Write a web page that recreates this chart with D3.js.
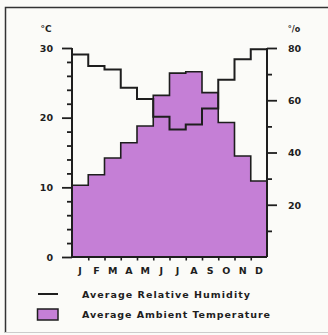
<!DOCTYPE html>
<html>
<head>
<meta charset="utf-8">
<script src="https://cdn.jsdelivr.net/npm/d3@7"></script>
<style>
  html, body { margin: 0; padding: 0; background: #fbfbf8; }
  svg { display: block; }
  text { font-family: "DejaVu Sans", sans-serif; font-weight: bold; fill: #1e1e1e; }
</style>
</head>
<body>
<svg id="chart" width="328" height="335"></svg>
<script>
// Monthly climate data
const months = ["J", "F", "M", "A", "M", "J", "J", "A", "S", "O", "N", "D"];
const temperature = [10.3, 11.8, 14.2, 16.4, 18.8, 23.2, 26.4, 26.6, 23.6, 19.3, 14.5, 10.9]; // °C
const humidity = [77.5, 73.1, 71.8, 64.8, 60.5, 53.7, 48.8, 50.7, 56.8, 67.8, 75.7, 79.5];    // %
const tempTicks = [0, 10, 20, 30];
const humTicks = [20, 40, 60, 80];
const legendItems = ["Average Relative Humidity", "Average Ambient Temperature"];

const ink = "#1e1e1e";
const purple = "#c57fd6";

const svg = d3.select("#chart");

// Frame around the figure
svg.append("path")
  .attr("d", "M5.5,333 L5.5,7.5 L328,7.5")
  .attr("fill", "none").attr("stroke", "#333").attr("stroke-width", 1.5);
svg.append("line")
  .attr("x1", 5).attr("x2", 328).attr("y1", 332.5).attr("y2", 332.5)
  .attr("stroke", "#ccc").attr("stroke-width", 1);

const plotL = 72, plotR = 267, plotT = 48, plotB = 257;

const x = d3.scaleLinear().domain([0, 12]).range([plotL, plotR]);
const yT = d3.scaleLinear().domain([0, 30]).range([plotB, plotT]);
const yH = d3.scaleLinear().domain([0, 80]).range([plotB, plotT]);

// Step points: each month value holds from its start to the next month
const stepPts = vals => vals.map((v, i) => [i, v]).concat([[12, vals[vals.length - 1]]]);

// Temperature area
const area = d3.area()
  .x(d => x(d[0])).y0(yT(0)).y1(d => yT(d[1]))
  .curve(d3.curveStepAfter);
svg.append("path")
  .datum(stepPts(temperature))
  .attr("d", area)
  .attr("fill", purple);
svg.append("path")
  .datum(stepPts(temperature))
  .attr("d", d3.line().x(d => x(d[0])).y(d => yT(d[1])).curve(d3.curveStepAfter))
  .attr("fill", "none").attr("stroke", ink).attr("stroke-width", 1.6);

// Humidity line
svg.append("path")
  .datum(stepPts(humidity))
  .attr("d", d3.line().x(d => x(d[0])).y(d => yH(d[1])).curve(d3.curveStepAfter))
  .attr("fill", "none").attr("stroke", ink).attr("stroke-width", 2);

// Left axis (°C)
const gL = svg.append("g").attr("transform", `translate(${plotL},0)`);
gL.call(d3.axisLeft(yT).tickValues(d3.range(0, 31, 2)).tickSize(5).tickFormat(""));
gL.selectAll(".tick line").filter(d => tempTicks.includes(d)).attr("x2", -10);
gL.selectAll(".tick line").attr("stroke", ink).attr("stroke-width", 1.8);
gL.select(".domain").attr("stroke", ink).attr("stroke-width", 2).attr("d", `M0,${plotT}V${plotB}`);
gL.selectAll(".tick").filter(d => tempTicks.includes(d)).append("text")
  .attr("x", -19).attr("dy", "0.35em").attr("text-anchor", "end")
  .attr("font-size", 9.5).text(d => d);

// Right axis (%)
const gR = svg.append("g").attr("transform", `translate(${plotR},0)`);
gR.call(d3.axisRight(yH).tickValues(d3.range(10, 81, 10)).tickSize(5).tickFormat(""));
gR.selectAll(".tick line").filter(d => humTicks.includes(d)).attr("x2", 10);
gR.selectAll(".tick line").attr("stroke", ink).attr("stroke-width", 1.8);
gR.select(".domain").attr("stroke", ink).attr("stroke-width", 2).attr("d", `M0,${plotT}V${plotB}`);
gR.selectAll(".tick").filter(d => humTicks.includes(d)).append("text")
  .attr("x", 21).attr("dy", "0.35em").attr("text-anchor", "start")
  .attr("font-size", 9.5).text(d => d);

// Unit labels
svg.append("text").attr("x", 46).attr("y", 32).attr("text-anchor", "middle")
  .attr("font-size", 9).text("°C");
svg.append("text").attr("x", 294).attr("y", 32).attr("text-anchor", "middle")
  .attr("font-size", 8).text("°/o");

// Bottom axis with month boundary ticks
const gB = svg.append("g").attr("transform", `translate(0,${plotB})`);
gB.call(d3.axisBottom(x).tickValues(d3.range(1, 12)).tickSize(3.5).tickFormat(""));
gB.selectAll(".tick line").attr("stroke", ink).attr("stroke-width", 1.6);
gB.select(".domain").attr("stroke", ink).attr("stroke-width", 2).attr("d", `M${plotL},0H${plotR}`);
gB.selectAll(".month").data(months).enter().append("text")
  .attr("class", "month")
  .attr("x", (d, i) => x(i + 0.5)).attr("y", 17)
  .attr("text-anchor", "middle").attr("font-size", 9.5)
  .text(d => d);

// Legend
svg.append("line").attr("x1", 38).attr("x2", 58).attr("y1", 294).attr("y2", 294)
  .attr("stroke", ink).attr("stroke-width", 2);
svg.append("rect").attr("x", 37.5).attr("y", 309).attr("width", 20.5).attr("height", 11)
  .attr("fill", purple).attr("stroke", ink).attr("stroke-width", 1.5);
svg.append("text").attr("x", 82).attr("y", 297.5).attr("font-size", 9.5)
  .attr("textLength", 168).attr("lengthAdjust", "spacing").text(legendItems[0]);
svg.append("text").attr("x", 82).attr("y", 318).attr("font-size", 9.5)
  .attr("textLength", 188).attr("lengthAdjust", "spacing").text(legendItems[1]);
</script>
</body>
</html>
